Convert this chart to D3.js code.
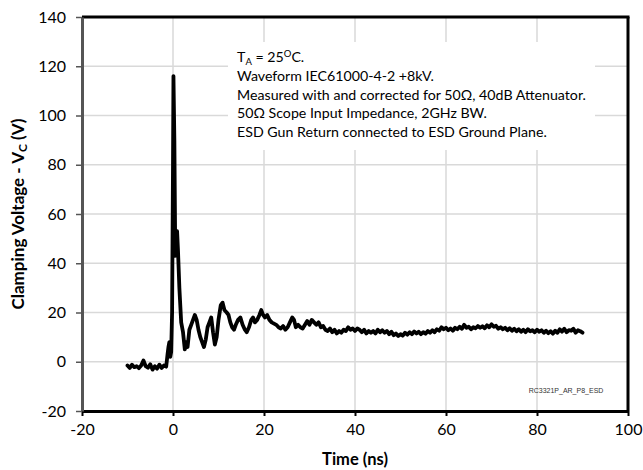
<!DOCTYPE html>
<html lang="en">
<head>
  <meta charset="UTF-8" />
  <title>ESD Clamping Voltage</title>
  <script src="https://d3js.org/d3.v7.min.js"></script>
  <style>
    body { margin: 0; background: #fff; font-family: Lato, "Open Sans", sans-serif; }
    .grid line { stroke: #d9d9d9; stroke-width: 1.5; }
    .tick text { font-family: Lato, sans-serif; font-size: 16px; fill: #000; }
    .wave { stroke: #000; stroke-width: 3.8; fill: none; stroke-linejoin: round; stroke-linecap: round; }
  </style>
</head>
<body>
  <svg width="643" height="470"></svg>

  <script>
    // axis ticks
    const xTicks = [-20, 0, 20, 40, 60, 80, 100];
    const yTicks = [-20, 0, 20, 40, 60, 80, 100, 120, 140];

    // note lines in the box
    const notes = [
      "Waveform IEC61000-4-2 +8kV.",
      "Measured with and corrected for 50\u03A9, 40dB Attenuator.",
      "50\u03A9 Scope Input Impedance, 2GHz BW.",
      "ESD Gun Return connected to ESD Ground Plane."
    ];

    // waveform, time in ns
    const waveT = [
      -10, -9.5, -9, -8.5, -8, -7.5, -7, -6.5, -6, -5.5,
      -5, -4.5, -4, -3.5, -3, -2.5, -2, -1.5, -1.2, -1.0,
      -0.8, -0.6, -0.4, -0.2, 0, 0.1, 0.3, 0.5, 0.7, 0.9,
      1.1, 1.4, 1.8, 2.2, 2.6, 2.9, 3.2, 3.6, 4.0, 4.4,
      4.8, 5.2, 5.6, 6.0, 6.4, 6.8, 7.2, 7.6, 8.0, 8.4,
      8.8, 9.2, 9.6, 10.0, 10.5, 10.9, 11.3, 11.8, 12.2, 12.6,
      13.0, 13.4, 13.8, 14.3, 14.8, 15.3, 15.8, 16.2, 16.7, 17.2,
      17.6, 18.0, 18.5, 19.0, 19.4, 19.8, 20.2, 20.7, 21.2, 21.7,
      22.2, 22.7, 23.2, 23.7, 24.2, 24.7, 25.2, 25.7, 26.2, 26.6,
      27.0, 27.5, 28.0, 28.5, 29.0, 29.5, 30.0, 30.5, 31.0, 31.5,
      32.0, 32.5, 33.0, 33.5, 34.0, 34.5, 35.0, 35.5, 36.0, 36.5,
      37.0, 37.5, 38.0, 38.5, 39.0, 39.5, 40.0, 40.5, 41.0, 41.5,
      42.0, 42.5, 43.0, 43.5, 44.0, 44.5, 45.0, 45.5, 46.0, 46.5,
      47.0, 47.5, 48.0, 48.5, 49.0, 49.5, 50.0, 50.5, 51.0, 51.5,
      52.0, 52.5, 53.0, 53.5, 54.0, 54.5, 55.0, 55.5, 56.0, 56.5,
      57.0, 57.5, 58.0, 58.5, 59.0, 59.5, 60.0, 60.5, 61.0, 61.5,
      62.0, 62.5, 63.0, 63.5, 64.0, 64.5, 65.0, 65.5, 66.0, 66.5,
      67.0, 67.5, 68.0, 68.5, 69.0, 69.5, 70.0, 70.5, 71.0, 71.5,
      72.0, 72.5, 73.0, 73.5, 74.0, 74.5, 75.0, 75.5, 76.0, 76.5,
      77.0, 77.5, 78.0, 78.5, 79.0, 79.5, 80.0, 80.5, 81.0, 81.5,
      82.0, 82.5, 83.0, 83.5, 84.0, 84.5, 85.0, 85.5, 86.0, 86.5,
      87.0, 87.5, 88.0, 88.5, 89.0, 89.5, 90.0
    ];
    // clamping voltage in V
    const waveV = [
      -1.5, -2.5, -1.2, -2.2, -1.8, -2.6, -1.5, 0.5, -1.8, -2.4,
      -1.0, -3.2, -1.8, -2.8, -1.2, -2.5, -1.5, -2.0, 3, 6,
      8, 2, 4, 20, 80, 116, 90, 43, 48, 53,
      45, 30, 16, 12, 5, 8, 6, 13, 15, 17,
      19, 17, 13, 10, 8, 6, 9, 14, 16, 18,
      12, 7, 10, 17, 23, 24, 21, 20, 19, 16,
      14, 13, 15, 17, 18, 15, 13, 12, 14, 17,
      18, 16, 17, 19, 21, 19, 18, 19, 17, 16,
      15.5, 15, 14, 13.5, 14.5, 13, 14, 16, 18, 17,
      14, 15, 14, 13.5, 15, 16.5, 15, 17, 16, 15,
      16, 14, 14.5, 13, 12.5, 13.5, 12, 13, 11.5, 12.5,
      11.8, 13, 12.5, 14, 13, 13.5, 12.5, 13.5, 13, 12,
      13, 11.5, 12.5, 11.8, 12.5, 11.5, 13, 12, 12.8, 11.8,
      12.5, 11.2, 12.2, 10.8, 11.5, 10.5, 11.2, 10.6, 11.8, 11.0,
      12.0, 11.2, 12.3, 11.5, 12.2, 11.2, 12.0, 11.4, 12.5, 11.8,
      12.8, 12.0, 13.2, 12.6, 14.0, 13.2, 13.8, 12.8, 13.5, 12.6,
      13.8, 13.2, 14.2, 13.4, 15.0, 13.8, 14.2, 13.2, 14.0, 13.6,
      14.5, 13.8, 14.4, 13.6, 14.8, 14.0, 15.2, 14.2, 14.6, 13.4,
      14.0, 13.2, 13.8, 12.8, 13.6, 12.6, 13.4, 12.4, 13.2, 12.2,
      13.0, 12.0, 13.2, 12.4, 12.8, 12.0, 13.0, 12.2, 12.8, 11.8,
      12.6, 11.6, 12.4, 11.4, 12.6, 11.8, 13.2, 12.2, 13.4, 12.0,
      12.8, 12.6, 13.4, 11.8, 12.8, 12.4, 11.8
    ];

    const svg = d3.select("svg");
    const plot = { left: 82, right: 628, top: 17, bottom: 411 };

    const x = d3.scaleLinear().domain([-20, 100]).range([plot.left, plot.right]);
    const y = d3.scaleLinear().domain([-20, 140]).range([plot.bottom, plot.top]);

    // gridlines
    const grid = svg.append("g").attr("class", "grid");
    grid.selectAll(".gx").data(xTicks.slice(1, -1)).join("line")
      .attr("x1", d => x(d)).attr("x2", d => x(d))
      .attr("y1", plot.top).attr("y2", plot.bottom);
    grid.selectAll(".gy").data(yTicks.slice(1, -1)).join("line")
      .attr("x1", plot.left).attr("x2", plot.right)
      .attr("y1", d => y(d)).attr("y2", d => y(d));

    // note box (white background hides grid)
    svg.append("rect")
      .attr("x", 228).attr("y", 42).attr("width", 367).attr("height", 108)
      .attr("fill", "#fff");

    const note = svg.append("text")
      .attr("font-family", "Lato, sans-serif")
      .attr("font-size", 14.2)
      .attr("fill", "#000");
    const first = note.append("tspan").attr("x", 237).attr("y", 62);
    first.append("tspan").text("T");
    first.append("tspan").attr("font-size", 9.5).attr("dy", 3).text("A");
    first.append("tspan").attr("dy", -3).text(" = 25");
    first.append("tspan").attr("font-size", 9.5).attr("dy", -5).text("O");
    first.append("tspan").attr("dy", 5).text("C.");
    notes.forEach((s, i) => {
      note.append("tspan").attr("x", 237).attr("y", 81 + i * 18.7).text(s);
    });

    // waveform
    const wave = waveT.map((t, i) => ({ t, v: waveV[i] }));
    svg.append("path")
      .datum(wave)
      .attr("class", "wave")
      .attr("d", d3.line().x(d => x(d.t)).y(d => y(d.v)));

    // frame: top and right
    svg.append("line").attr("x1", plot.left).attr("x2", plot.right + 1.5)
      .attr("y1", plot.top).attr("y2", plot.top)
      .attr("stroke", "#000").attr("stroke-width", 3);
    svg.append("line").attr("x1", plot.right).attr("x2", plot.right)
      .attr("y1", plot.top).attr("y2", plot.bottom)
      .attr("stroke", "#000").attr("stroke-width", 3);

    // axes (plain hyphen for negatives, as in the original)
    const fmt = d => String(d);
    const gx = svg.append("g")
      .attr("transform", `translate(0,${plot.bottom})`)
      .call(d3.axisBottom(x).tickValues(xTicks).tickFormat(fmt).tickSize(5).tickPadding(8).tickSizeOuter(0));
    gx.select(".domain").attr("stroke", "#000").attr("stroke-width", 3);
    gx.selectAll(".tick line").attr("stroke", "#000").attr("stroke-width", 2);

    const gy = svg.append("g")
      .attr("transform", `translate(${plot.left},0)`)
      .call(d3.axisLeft(y).tickValues(yTicks).tickFormat(fmt).tickSize(6).tickPadding(10).tickSizeOuter(0));
    gy.select(".domain").attr("stroke", "#555").attr("stroke-width", 3);
    gy.selectAll(".tick line").attr("stroke", "#555").attr("stroke-width", 1.5);

    // axis titles
    svg.append("text")
      .attr("x", (plot.left + plot.right) / 2).attr("y", 465)
      .attr("text-anchor", "middle")
      .attr("font-family", "Lato, sans-serif").attr("font-size", 16.5).attr("font-weight", "bold")
      .text("Time (ns)");

    const yt = svg.append("text")
      .attr("transform", `translate(24,${(plot.top + plot.bottom) / 2}) rotate(-90)`)
      .attr("text-anchor", "middle")
      .attr("font-family", "Lato, sans-serif").attr("font-size", 17).attr("font-weight", "bold");
    yt.append("tspan").text("Clamping Voltage - V");
    yt.append("tspan").attr("font-size", 12).attr("dy", 3).text("C");
    yt.append("tspan").attr("dy", -3).text(" (V)");

    // chart id
    svg.append("text")
      .attr("x", 566).attr("y", 393)
      .attr("text-anchor", "middle")
      .attr("font-family", "Liberation Sans, Arial, sans-serif").attr("font-size", 7)
      .attr("fill", "#333")
      .text("RC3321P_AR_P8_ESD");
  </script>
</body>
</html>
